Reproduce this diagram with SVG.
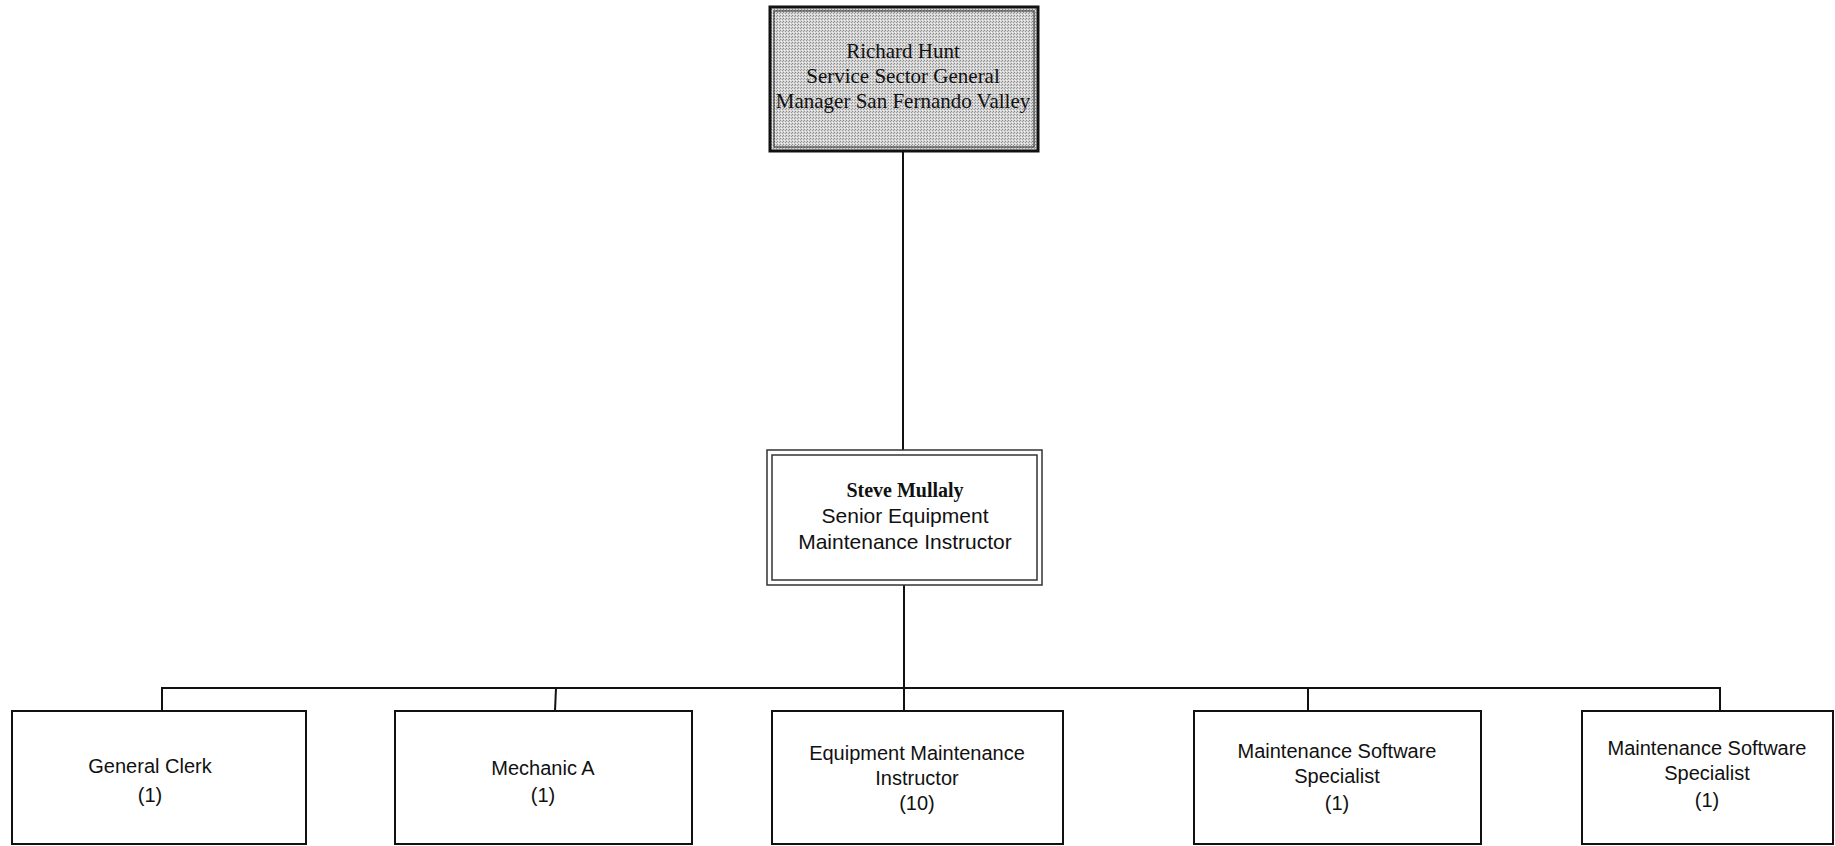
<svg xmlns="http://www.w3.org/2000/svg" width="1835" height="846" viewBox="0 0 1835 846">
<defs>
<pattern id="stip" width="3" height="3" patternUnits="userSpaceOnUse">
<rect width="3" height="3" fill="#d4d4d4"/>
<rect x="0" y="0" width="1" height="1" fill="#8a8a8a"/>
<rect x="2" y="1" width="1" height="1" fill="#9a9a9a"/>
<rect x="1" y="2" width="1" height="1" fill="#f2f2f2"/>
</pattern>
</defs>
<style>
.box{fill:#fff;stroke:#111;stroke-width:2}
.dbl{fill:none;stroke:#333;stroke-width:1.5}
.ln{fill:none;stroke:#111;stroke-width:2}
.serif{font-family:"Liberation Serif","Times New Roman",serif;font-size:21px;fill:#111;text-anchor:middle}
.sans{font-family:"Liberation Sans",Arial,sans-serif;font-size:20px;fill:#111;text-anchor:middle}
.b{font-weight:bold}
</style>
<rect width="1835" height="846" fill="#fff"/>
<g id="connectors">
<line class="ln" x1="903" y1="152" x2="903" y2="450"/>
<line class="ln" x1="904" y1="585" x2="904" y2="711"/>
<polyline class="ln" points="162,711 162,688 1720,688 1720,711"/>
<line class="ln" x1="556" y1="688" x2="555" y2="711"/>
<line class="ln" x1="1308" y1="688" x2="1308" y2="711"/>
</g>
<g id="richard-hunt">
<rect x="770" y="7" width="268" height="144" fill="url(#stip)" stroke="#111" stroke-width="3"/>
<rect x="774" y="11" width="260" height="136" fill="none" stroke="#222" stroke-width="1"/>
<text class="serif" x="903" y="58">Richard Hunt</text>
<text class="serif" x="903" y="83">Service Sector General</text>
<text class="serif" x="903" y="108">Manager San Fernando Valley</text>
</g>
<g id="steve-mullaly">
<rect x="767" y="450" width="275" height="135" fill="#fff" stroke="#333" stroke-width="1.5"/>
<rect class="dbl" x="772" y="455" width="265" height="125"/>
<text class="serif b" x="905" y="497" style="font-size:20px">Steve Mullaly</text>
<text class="sans" x="905" y="523" style="font-size:21px">Senior Equipment</text>
<text class="sans" x="905" y="549" style="font-size:21px">Maintenance Instructor</text>
</g>
<g id="general-clerk">
<rect class="box" x="12" y="711" width="294" height="133"/>
<text class="sans" x="150" y="773">General Clerk</text>
<text class="sans" x="150" y="802">(1)</text>
</g>
<g id="mechanic-a">
<rect class="box" x="395" y="711" width="297" height="133"/>
<text class="sans" x="543" y="775">Mechanic A</text>
<text class="sans" x="543" y="802">(1)</text>
</g>
<g id="equipment-maintenance-instructor">
<rect class="box" x="772" y="711" width="291" height="133"/>
<text class="sans" x="917" y="760">Equipment Maintenance</text>
<text class="sans" x="917" y="785">Instructor</text>
<text class="sans" x="917" y="810">(10)</text>
</g>
<g id="maintenance-software-specialist-1">
<rect class="box" x="1194" y="711" width="287" height="133"/>
<text class="sans" x="1337" y="758">Maintenance Software</text>
<text class="sans" x="1337" y="783">Specialist</text>
<text class="sans" x="1337" y="810">(1)</text>
</g>
<g id="maintenance-software-specialist-2">
<rect class="box" x="1582" y="711" width="251" height="133"/>
<text class="sans" x="1707" y="755">Maintenance Software</text>
<text class="sans" x="1707" y="780">Specialist</text>
<text class="sans" x="1707" y="807">(1)</text>
</g>
</svg>
